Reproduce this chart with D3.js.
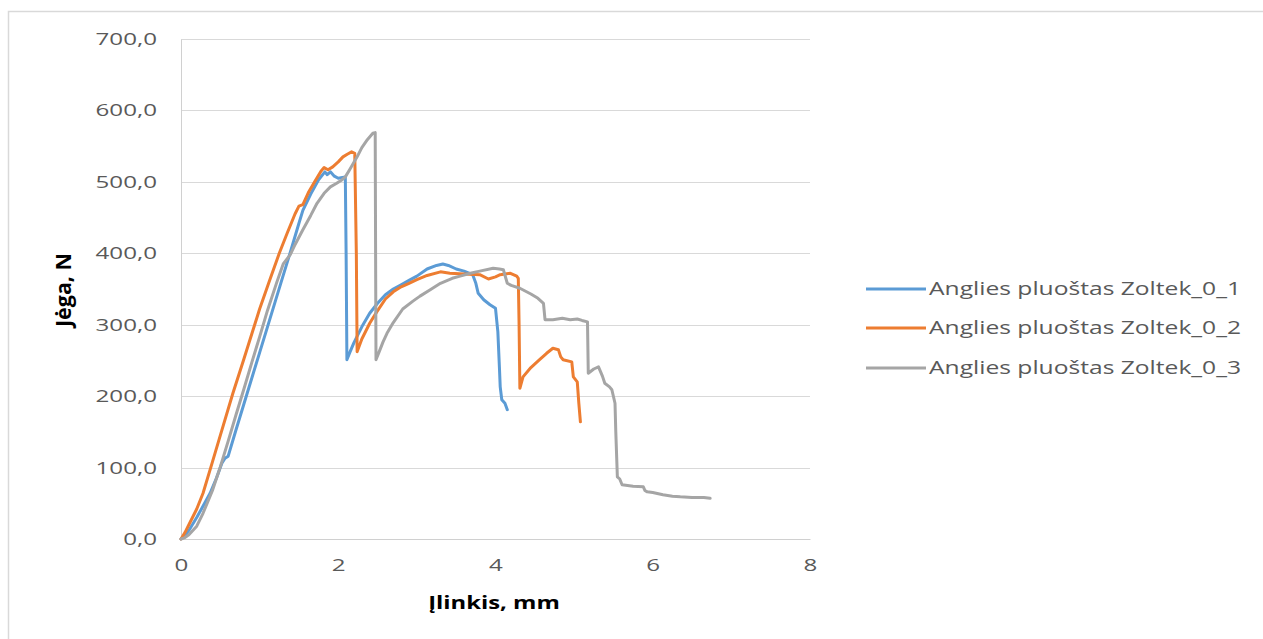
<!DOCTYPE html>
<html>
<head>
<meta charset="utf-8">
<script src="https://cdn.jsdelivr.net/npm/d3@7"></script>
<style>
  body { margin: 0; background: #fff; }
  text { font-family: "Open Sans", sans-serif; }
</style>
</head>
<body>
<svg width="1263" height="639"></svg>
<script>
// Series data: [deflection mm, force N]
const zoltek1 = [[0,0],[0.05,5],[0.1,12],[0.2,30],[0.3,50],[0.37,64],[0.45,85],[0.52,106],[0.56,113],[0.6,116],[0.7,153],[0.8,189],[0.9,225],[1.0,261],[1.1,297],[1.2,333],[1.3,369],[1.4,405],[1.5,442],[1.55,460],[1.65,483],[1.75,503],[1.83,514],[1.86,510],[1.9,514],[1.95,508],[2.0,505],[2.09,507],[2.1,400],[2.11,251],[2.15,262],[2.2,275],[2.3,297],[2.4,316],[2.5,330],[2.6,342],[2.7,350],[2.8,356],[2.9,362],[3.0,368],[3.13,378],[3.25,383],[3.33,385],[3.4,383],[3.5,378],[3.6,375],[3.71,370],[3.75,358],[3.78,344],[3.85,335],[3.93,328],[4.0,323],[4.03,290],[4.05,240],[4.06,213],[4.08,195],[4.12,190],[4.15,181]];
const zoltek2 = [[0,0],[0.05,9],[0.1,20],[0.2,42],[0.28,64],[0.4,108],[0.5,145],[0.66,204],[0.8,252],[0.9,287],[1.0,322],[1.13,363],[1.25,400],[1.35,428],[1.45,455],[1.5,466],[1.55,468],[1.62,485],[1.7,500],[1.78,515],[1.82,520],[1.87,517],[1.93,521],[2.0,528],[2.06,535],[2.12,539],[2.17,542],[2.21,540],[2.23,400],[2.24,262],[2.3,280],[2.4,302],[2.49,318],[2.6,336],[2.7,346],[2.8,353],[2.9,358],[3.0,363],[3.13,369],[3.3,374],[3.42,372],[3.6,371],[3.8,370],[3.91,364],[4.0,367],[4.06,370],[4.19,372],[4.27,368],[4.29,365],[4.3,300],[4.31,211],[4.35,227],[4.45,240],[4.55,250],[4.65,260],[4.73,267],[4.8,265],[4.83,255],[4.86,251],[4.97,248],[4.99,227],[5.04,220],[5.06,190],[5.08,164]];
const zoltek3 = [[0,0],[0.05,2],[0.1,6],[0.2,18],[0.28,36],[0.4,68],[0.5,101],[0.6,137],[0.7,174],[0.8,210],[0.9,247],[1.0,283],[1.1,320],[1.22,360],[1.3,385],[1.39,398],[1.45,412],[1.55,433],[1.65,453],[1.73,470],[1.82,484],[1.9,493],[1.98,498],[2.05,503],[2.09,507],[2.15,518],[2.24,535],[2.3,548],[2.37,559],[2.44,568],[2.47,569],[2.475,400],[2.48,251],[2.52,262],[2.57,276],[2.62,288],[2.7,303],[2.82,322],[2.95,333],[3.04,340],[3.17,349],[3.3,358],[3.45,365],[3.55,368],[3.68,372],[3.8,375],[3.97,379],[4.05,378],[4.1,377],[4.15,358],[4.2,355],[4.31,351],[4.45,343],[4.54,337],[4.61,330],[4.63,307],[4.73,307],[4.85,309],[4.95,307],[5.04,308],[5.1,306],[5.17,304],[5.18,232],[5.25,238],[5.31,241],[5.36,228],[5.39,218],[5.45,213],[5.48,209],[5.52,190],[5.53,150],[5.55,87],[5.58,84],[5.61,76],[5.75,74],[5.88,73],[5.9,68],[5.93,66],[6.0,65],[6.13,62],[6.25,60],[6.35,59],[6.5,58],[6.65,58],[6.73,57]];

const seriesNames = ["Anglies pluoštas Zoltek_0_1", "Anglies pluoštas Zoltek_0_2", "Anglies pluoštas Zoltek_0_3"];
const seriesColors = ["#5B9BD5", "#ED7D31", "#A5A5A5"];
const xTicks = [0, 2, 4, 6, 8];
const yTicks = [0, 100, 200, 300, 400, 500, 600, 700];

const svg = d3.select("svg");

// the picture is stretched sideways, so widen text to match
function stretch(sel, k) {
  sel.each(function() {
    const w = this.getComputedTextLength();
    d3.select(this).attr("textLength", w * k).attr("lengthAdjust", "spacingAndGlyphs");
  });
}

// chart border (only top and left edges are visible)
svg.append("rect")
  .attr("x", 8.5).attr("y", 11.5)
  .attr("width", 1300).attr("height", 700)
  .attr("fill", "none").attr("stroke", "#d9d9d9").attr("stroke-width", 1.5);

const x = d3.scaleLinear().domain([0, 8]).range([181, 810]);
const y = d3.scaleLinear().domain([0, 700]).range([539, 39]);

// gridlines
svg.append("g")
  .selectAll("line")
  .data(yTicks.slice(1))
  .enter().append("line")
  .attr("x1", x(0)).attr("x2", x(8))
  .attr("y1", d => Math.round(y(d)) + 0.5).attr("y2", d => Math.round(y(d)) + 0.5)
  .attr("stroke", "#d9d9d9");

// y axis
const yAxis = svg.append("g")
  .attr("transform", "translate(" + x(0) + ",0)")
  .call(d3.axisLeft(y).tickValues(yTicks).tickSize(0).tickPadding(24)
    .tickFormat(d => d3.format(".1f")(d).replace(".", ",")));
yAxis.select(".domain").attr("stroke", "#d0d0d0");
yAxis.selectAll("text")
  .attr("fill", "#595959").style("font-size", "17px")
  .call(stretch, 1.42);

// x axis
const xAxis = svg.append("g")
  .attr("transform", "translate(0," + y(0) + ")")
  .call(d3.axisBottom(x).tickValues(xTicks).tickSize(0).tickPadding(20));
xAxis.select(".domain").attr("stroke", "#d0d0d0");
xAxis.selectAll("text")
  .attr("fill", "#595959").style("font-size", "17px")
  .call(stretch, 1.42);

// series lines
const line = d3.line().x(d => x(d[0])).y(d => y(d[1]));
[zoltek1, zoltek2, zoltek3].forEach((data, i) => {
  svg.append("path")
    .datum(data)
    .attr("d", line)
    .attr("fill", "none")
    .attr("stroke", seriesColors[i])
    .attr("stroke-width", 3)
    .attr("stroke-linejoin", "round")
    .attr("stroke-linecap", "round");
});

// axis titles
svg.append("text")
  .attr("x", 494).attr("y", 609)
  .attr("text-anchor", "middle")
  .style("font-size", "17px").style("font-weight", "bold")
  .attr("fill", "#000")
  .text("Įlinkis, mm")
  .call(stretch, 1.4);

svg.append("text")
  .attr("transform", "translate(71,290) scale(1.3,1) rotate(-90)")
  .attr("text-anchor", "middle")
  .style("font-size", "16px").style("font-weight", "bold")
  .attr("fill", "#000")
  .attr("textLength", 74).attr("lengthAdjust", "spacingAndGlyphs")
  .text("Jėga, N");

// legend
const legendY = [289, 328, 368];
const legend = svg.append("g");
seriesNames.forEach((name, i) => {
  legend.append("line")
    .attr("x1", 866).attr("x2", 926)
    .attr("y1", legendY[i]).attr("y2", legendY[i])
    .attr("stroke", seriesColors[i]).attr("stroke-width", 3);
  legend.append("text")
    .attr("x", 929).attr("y", legendY[i] + 6)
    .attr("fill", "#595959")
    .style("font-size", "18px")
    .attr("textLength", 312).attr("lengthAdjust", "spacingAndGlyphs")
    .text(name);
});
</script>
</body>
</html>
